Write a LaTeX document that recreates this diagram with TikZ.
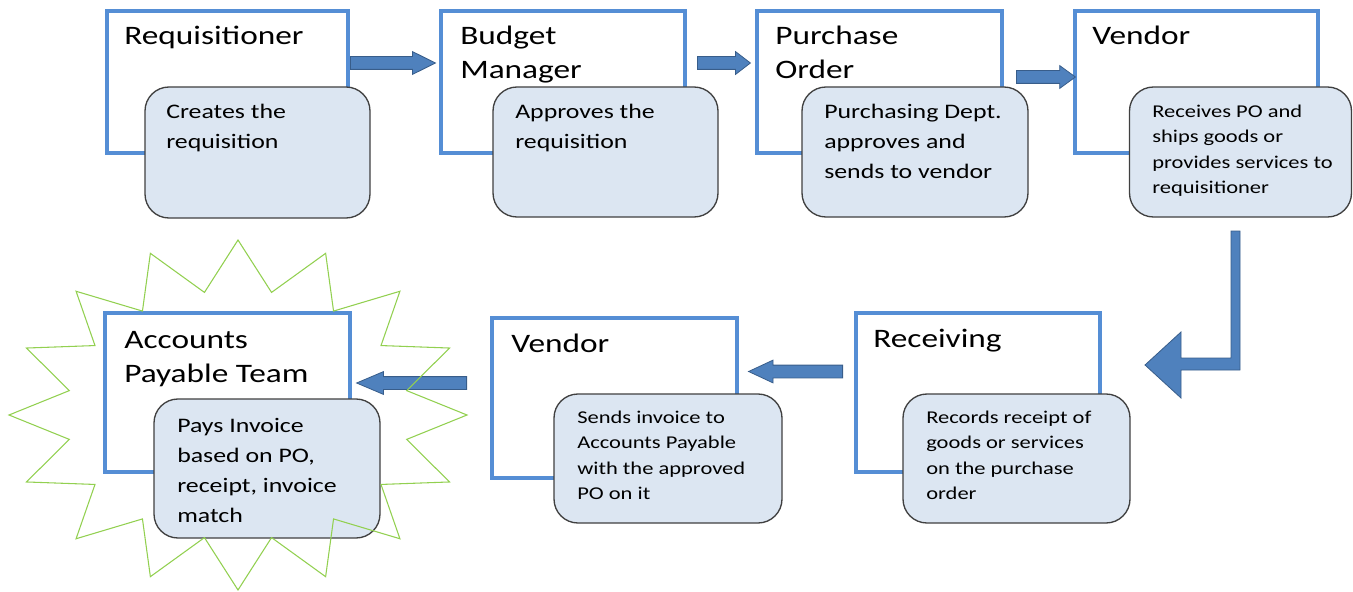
\documentclass[tikz,border=0pt]{standalone}
\usepackage{fontspec}
\newfontfamily\boxfont[FakeStretch=1.25]{Carlito}
\usetikzlibrary{shapes.arrows}

\definecolor{stageblue}{RGB}{85,142,213}
\definecolor{notefill}{RGB}{220,230,242}
\definecolor{noteline}{RGB}{64,64,64}
\definecolor{arrowfill}{RGB}{79,129,189}
\definecolor{arrowline}{RGB}{56,93,138}
\definecolor{burstgreen}{RGB}{146,208,80}

\tikzset{
  stage/.style={draw=stageblue, line width=3pt, fill=white, inner sep=0pt},
  note/.style={draw=noteline, line width=1pt, fill=notefill, rounded corners=18pt, inner sep=0pt},
  ttl/.style={anchor=base west, inner sep=0pt, align=left, font=\boxfont\fontsize{20}{25.5}\selectfont},
  bigtxt/.style={anchor=base west, inner sep=0pt, align=left, font=\boxfont\fontsize{15.5}{22.5}\selectfont},
  smalltxt/.style={anchor=base west, inner sep=0pt, align=left, font=\boxfont\fontsize{13.5}{19.1}\selectfont},
  blk/.style={single arrow, anchor=tail, draw=arrowline, line width=0.6pt, fill=arrowfill, inner sep=4.5pt, single arrow head extend=3.75pt},
  burst/.style={draw=burstgreen, line width=0.8pt},
}

\begin{document}
\begin{tikzpicture}[x=0.75pt,y=0.75pt,yscale=-1,xscale=1]
\useasboundingbox (0,0) rectangle (1353,592);

%Shape: Rectangle
\node[stage, minimum width=241*0.75pt, minimum height=142*0.75pt] (req) at (227.5,82) {};
\node[stage, minimum width=244*0.75pt, minimum height=142*0.75pt] (bud) at (563,82) {};
\node[stage, minimum width=245*0.75pt, minimum height=142*0.75pt] (pur) at (879.5,82) {};
\node[stage, minimum width=243*0.75pt, minimum height=142*0.75pt] (ven) at (1196.5,82) {};
\node[stage, minimum width=245*0.75pt, minimum height=159*0.75pt] (pay) at (227.5,392.5) {};
\node[stage, minimum width=245*0.75pt, minimum height=160*0.75pt] (inv) at (614.5,398) {};
\node[stage, minimum width=244*0.75pt, minimum height=159*0.75pt] (rec) at (978,392.5) {};

% Text Node (anchored at the last baseline)
\node[ttl] (reqT) at (124,45) {Requisitioner};
\node[ttl] (budT) at (460,79) {Budget\\Manager};
\node[ttl] (purT) at (775,79) {Purchase\\Order};
\node[ttl] (venT) at (1092,45) {Vendor};
\node[ttl] (payT) at (124,382) {Accounts\\Payable Team};
\node[ttl] (invT) at (511,352) {Vendor};
\node[ttl] (recT) at (873,347) {Receiving};

%Shape: Rounded Rect
\node[note, minimum width=225*0.75pt, minimum height=131*0.75pt] (reqN) at (257.5,152.5) {};
\node[note, minimum width=225*0.75pt, minimum height=130*0.75pt] (budN) at (605.5,152) {};
\node[note, minimum width=226*0.75pt, minimum height=130*0.75pt] (purN) at (915,152) {};
\node[note, minimum width=222*0.75pt, minimum height=130*0.75pt] (venN) at (1240.5,152) {};
\node[note, minimum width=226*0.75pt, minimum height=139*0.75pt] (payN) at (267,468.5) {};
\node[note, minimum width=228*0.75pt, minimum height=129*0.75pt] (invN) at (668,458.5) {};
\node[note, minimum width=227*0.75pt, minimum height=129*0.75pt] (recN) at (1016.5,458.5) {};

% Text Node (anchored at the last baseline)
\node[bigtxt] (reqNT) at (166,148) {Creates the\\requisition};
\node[bigtxt] (budNT) at (515,148) {Approves the\\requisition};
\node[bigtxt] (purNT) at (824,178) {Purchasing Dept.\\approves and\\sends to vendor};
\node[smalltxt] (venNT) at (1152,193.5) {Receives PO and\\ships goods or\\provides services to\\requisitioner};
\node[bigtxt] (payNT) at (177,522) {Pays Invoice\\based on PO,\\receipt, invoice\\match};
\node[smalltxt] (invNT) at (577,499.5) {Sends invoice to\\Accounts Payable\\with the approved\\PO on it};
\node[smalltxt] (recNT) at (926,499.5) {Records receipt of\\goods or services\\on the purchase\\order};

%Shape: Right Arrow
\node[blk, single arrow tip angle=53, minimum height=85*0.75pt] (a1) at (350,63) {};
\node[blk, single arrow tip angle=75, minimum height=53*0.75pt] (a2) at (697,63) {};
\node[blk, single arrow tip angle=72, minimum height=59*0.75pt] (a3) at (1016,77) {};
%Shape: Left Arrow
\node[blk, single arrow tip angle=50, shape border rotate=180, minimum height=94*0.75pt] (a5) at (843,371.5) {};
\node[blk, single arrow tip angle=46, shape border rotate=180, minimum height=110*0.75pt] (a6) at (467,383) {};

%Shape: Bent Arrow
\draw[draw=arrowline, line width=0.6pt, fill=arrowfill] (1231,231) -- (1240,231) -- (1240,370) -- (1181,370) -- (1181,398) -- (1145,365) -- (1181,332) -- (1181,358) -- (1231,358) -- cycle ;

%Shape: Star
\draw[burst] (467,415) \foreach \k [evaluate=\k as \rx using {isodd(\k) ? 172 : 229}, evaluate=\k as \ry using {isodd(\k) ? 125 : 175}] in {1,...,31} { -- ({238+\rx*cos(\k*11.25)},{415+\ry*sin(\k*11.25)}) } -- cycle ;

\end{tikzpicture}
\end{document}
